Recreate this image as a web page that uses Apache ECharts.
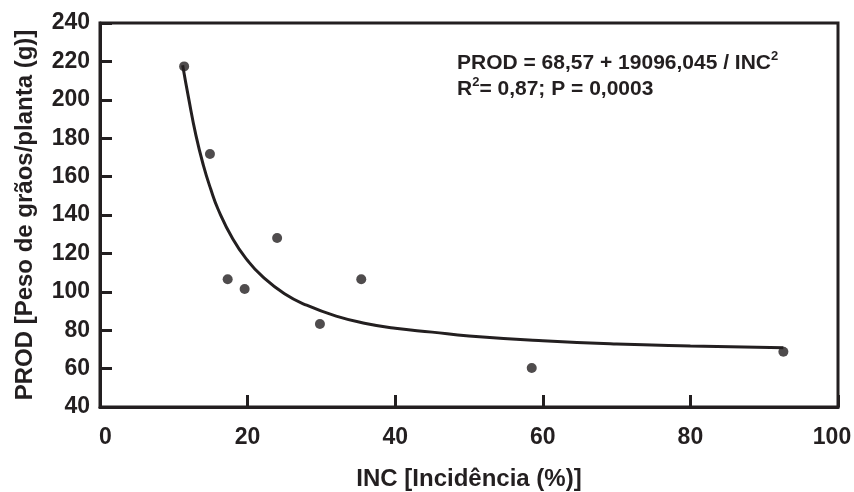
<!DOCTYPE html>
<html>
<head>
<meta charset="utf-8">
<script src="https://cdn.jsdelivr.net/npm/echarts@6/dist/echarts.min.js"></script>
<style>
html,body{margin:0;padding:0;background:#fff;}
#chart{width:854px;height:492px;}
</style>
</head>
<body>
<div id="chart"></div>
<script>
// Observed points: INC (%) and PROD (g)
var incValues = [11.4, 14.9, 17.3, 19.6, 24.0, 29.8, 35.4, 58.5, 92.6];
var prodValues = [217.4, 171.8, 106.5, 101.5, 128.0, 83.2, 106.5, 60.3, 68.8];
// Fitted curve
var curveX = [11.2, 12, 13, 14, 15, 16, 18, 20, 22, 25, 28, 32, 36, 40, 45, 50, 60, 70, 80, 92.6];
var curveY = [218, 201, 181.5, 166, 153.5, 143, 127.5, 116.3, 108, 99, 93, 87.3, 83.5, 81, 79, 77, 74.5, 72.8, 71.8, 70.9];
var xTicks = [0, 20, 40, 60, 80, 100];
var yTicks = [40, 60, 80, 100, 120, 140, 160, 180, 200, 220, 240];
var xTitle = 'INC [Incidência (%)]';
var yTitle = 'PROD [Peso de grãos/planta (g)]';

var ink = '#231f20';
var font = 'Liberation Sans';

var scatterData = incValues.map(function (x, i) { return [x, prodValues[i]]; });
var curveData = curveX.map(function (x, i) { return [x, curveY[i]]; });

var lbl = {color: ink, fontFamily: font, fontWeight: 'bold', fontSize: 23};

var chart = echarts.init(document.getElementById('chart'), null, {renderer: 'canvas'});
chart.setOption({
  animation: false,
  backgroundColor: '#fff',
  grid: {left: 100, right: 16, top: 23, bottom: 85, containLabel: false, outerBoundsMode: 'none',
         show: true, borderColor: ink, borderWidth: 3, backgroundColor: 'transparent'},
  xAxis: {
    type: 'value', min: xTicks[0], max: xTicks[xTicks.length - 1], interval: 20,
    name: xTitle, nameLocation: 'middle', nameGap: 60,
    nameTextStyle: {color: ink, fontFamily: font, fontWeight: 'bold', fontSize: 24},
    axisLine: {show: true, lineStyle: {color: ink, width: 3}},
    axisTick: {show: true, inside: true, length: 12, lineStyle: {color: ink, width: 3}},
    axisLabel: {
      color: ink, fontFamily: font, fontWeight: 'bold', fontSize: 23, margin: 19,
      formatter: function (v) {
        if (v === xTicks[0]) return '{first|' + v + '}';
        if (v === xTicks[xTicks.length - 1]) return '{last|' + v + '}';
        return String(v);
      },
      rich: {
        first: Object.assign({padding: [0, 0, 0, 11]}, lbl),
        last: Object.assign({padding: [0, 12, 0, 0]}, lbl)
      }
    },
    splitLine: {show: false}
  },
  yAxis: {
    type: 'value', min: yTicks[0], max: yTicks[yTicks.length - 1], interval: 20,
    name: yTitle, nameLocation: 'middle', nameGap: 63, nameRotate: 90,
    nameTextStyle: {color: ink, fontFamily: font, fontWeight: 'bold', fontSize: 24},
    axisLine: {show: true, lineStyle: {color: ink, width: 3}},
    axisTick: {show: true, inside: true, length: 12, lineStyle: {color: ink, width: 3}},
    axisLabel: {color: ink, fontFamily: font, fontWeight: 'bold', fontSize: 23, margin: 10},
    splitLine: {show: false}
  },
  graphic: [{
    type: 'text', left: 457, top: 50,
    style: {
      text: '{m|PROD = 68,57 + 19096,045 / INC}{s|2}\n{m|R}{s|2}{m|= 0,87; P = 0,0003}',
      fontFamily: font, fontWeight: 'bold', fontSize: 21, fill: ink,
      rich: {
        m: {fontFamily: font, fontWeight: 'bold', fontSize: 21, fill: ink, lineHeight: 26},
        s: {fontFamily: font, fontWeight: 'bold', fontSize: 13, fill: ink, lineHeight: 26, verticalAlign: 'top', padding: [0, 0, 8, 0]}
      }
    }
  }],
  series: [{
    type: 'line', data: curveData, smooth: true, showSymbol: false, symbol: 'none',
    lineStyle: {color: ink, width: 3}, z: 2
  }, {
    type: 'scatter', data: scatterData, symbol: 'circle', symbolSize: 10,
    itemStyle: {color: ink}, z: 3
  }]
});
</script>
</body>
</html>
